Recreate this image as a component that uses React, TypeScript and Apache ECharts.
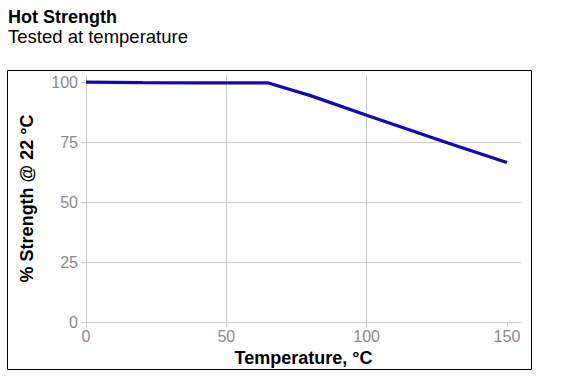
import React, { useEffect, useRef } from "react";
import * as echarts from "echarts";

const temperatures = [0, 20, 40, 65, 80, 100, 130, 150];
const strengths = [100, 99.8, 99.7, 99.7, 94.4, 86.2, 74.2, 66.5];
const yTicks = [0, 25, 50, 75, 100];
const xTicks = [0, 50, 100, 150];

export default function App() {
  const ref = useRef<HTMLDivElement>(null);
  useEffect(() => {
    if (!ref.current) return;
    const chart = echarts.init(ref.current, undefined, { renderer: "svg" });
    const font = "Liberation Sans, Arial, sans-serif";
    chart.setOption({
      animation: false,
      title: {
        text: "Hot Strength",
        subtext: "Tested at temperature",
        left: 3,
        top: 3,
        itemGap: 1,
        textStyle: { fontFamily: font, fontSize: 18, fontWeight: "bold", color: "#000" },
        subtextStyle: { fontFamily: font, fontSize: 18.5, color: "#000" },
      },
      graphic: [
        {
          type: "rect",
          shape: { x: 7.5, y: 70.5, width: 524, height: 299 },
          style: { fill: "none", stroke: "#000", lineWidth: 1 },
          silent: true,
        },
      ],
      grid: { left: 86, right: 47, top: 75, bottom: 61, containLabel: false },
      xAxis: {
        type: "value",
        min: 0,
        max: 155,
        interval: 50,
        name: "Temperature, °C",
        nameLocation: "middle",
        nameGap: 22,
        nameTextStyle: { fontFamily: font, fontSize: 18, fontWeight: "bold", color: "#000" },
        axisLine: { show: false },
        axisTick: { show: true, length: 5, lineStyle: { color: "#ccc" }, customValues: xTicks },
        axisLabel: { fontFamily: font, fontSize: 16, color: "#8a8a8a", margin: 6, customValues: xTicks },
        splitLine: { show: true, showMaxLine: false, lineStyle: { color: "#ccc" } },
      },
      yAxis: {
        type: "value",
        min: 0,
        max: 103,
        interval: 25,
        name: "% Strength @ 22 °C",
        nameLocation: "middle",
        nameGap: 50,
        nameTextStyle: { fontFamily: font, fontSize: 18, fontWeight: "bold", color: "#000" },
        axisLine: { show: false },
        axisTick: { show: true, length: 5, lineStyle: { color: "#ccc" }, customValues: yTicks },
        axisLabel: { fontFamily: font, fontSize: 16, color: "#8a8a8a", margin: 8, customValues: yTicks },
        splitLine: { show: true, showMaxLine: false, lineStyle: { color: "#ccc" } },
      },
      series: [
        {
          type: "line",
          data: temperatures.map((t, i) => [t, strengths[i]]),
          showSymbol: false,
          lineStyle: { color: "#0c0cb4", width: 3.2 },
        },
      ],
    });
    return () => chart.dispose();
  }, []);
  return (
    <div
      ref={ref}
      style={{ position: "absolute", left: 0, top: 0, width: 568, height: 383 }}
    />
  );
}
